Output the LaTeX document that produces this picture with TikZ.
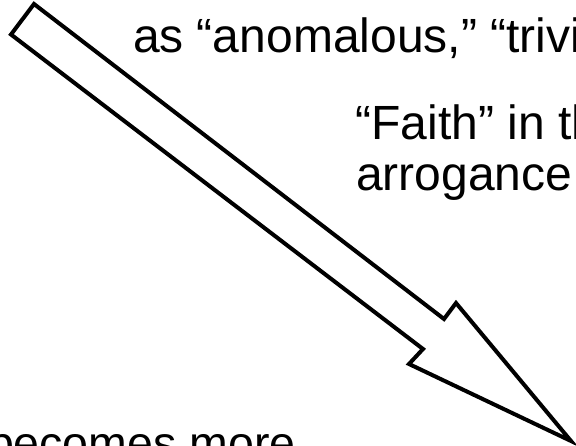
\documentclass[tikz,border=0pt]{standalone}
\usepackage{fontspec}
\setmainfont{Liberation Sans}
\begin{document}
\begin{tikzpicture}[x=1pt,y=-1pt,
  bigtext/.style={anchor=base west,inner sep=0pt,outer sep=0pt,font=\fontsize{48}{55}\selectfont},
  bottomtext/.style={anchor=base west,inner sep=0pt,outer sep=0pt,font=\fontsize{46.5}{53}\selectfont},
  hollowarrow/.style={draw=black,fill=white,line width=4pt,line join=miter,miter limit=20}]
\useasboundingbox (0,0) rectangle (576,446);
\clip (0,0) rectangle (576,446);
\fill[white] (0,0) rectangle (576,446);
% arrow outline points
\coordinate (tailtop) at (34,4);
\coordinate (tailleft) at (11,34.5);
\coordinate (lownotch) at (423,349);
\coordinate (lowbarb) at (409,364);
\coordinate (tip) at (571,441);
\coordinate (upbarb) at (456,303);
\coordinate (upnotch) at (444,319);
\draw[hollowarrow] (tailtop) -- (tailleft) -- (lownotch) -- (lowbarb) -- (tip) -- (upbarb) -- (upnotch) -- cycle;
% texts
\node[bigtext] (line1) at (133,53) {as “anomalous,” “trivi};
\node[bigtext] (line2) at (355.5,140) {“Faith” in th};
\node[bigtext] (line3) at (356,191) {arrogance};
\node[bottomtext] (line4) at (-12,459) {becomes more};
\end{tikzpicture}
\end{document}
